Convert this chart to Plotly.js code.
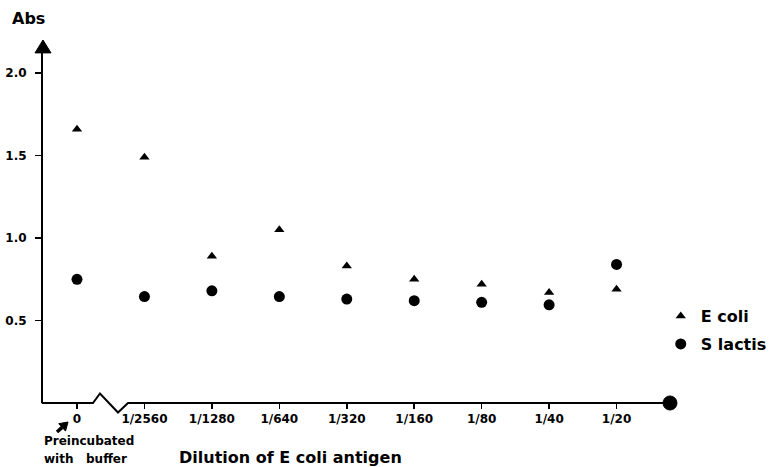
<!DOCTYPE html>
<html>
<head>
<meta charset="utf-8">
<script src="https://cdn.plot.ly/plotly-3.0.1.min.js"></script>
<style>html,body{margin:0;padding:0;background:#fff;}#chart{width:783px;height:467px;}</style>
</head>
<body>
<div id="chart"></div>
<script>
// Data
const dilutions = ['0', '1/2560', '1/1280', '1/640', '1/320', '1/160', '1/80', '1/40', '1/20'];
const eColi = [1.66, 1.49, 0.89, 1.05, 0.83, 0.75, 0.72, 0.67, 0.69];
const sLactis = [0.75, 0.645, 0.68, 0.645, 0.63, 0.62, 0.61, 0.595, 0.84];
const yTickVals = [0.5, 1.0, 1.5, 2.0];
const yTickText = ['0.5', '1.0', '1.5', '2.0'];

const FONT = 'DejaVu Sans, sans-serif';
const BOLD = {family: FONT, weight: 'bold', color: '#000'};

const traces = [
  {
    x: dilutions, y: eColi, name: 'E coli', type: 'scatter', mode: 'markers',
    legendgroup: 'a', cliponaxis: false,
    marker: {symbol: 'triangle-up', size: 9, color: '#000'}
  },
  {
    x: dilutions, y: sLactis, name: 'S lactis', type: 'scatter', mode: 'markers',
    legendgroup: 'b', cliponaxis: false,
    marker: {symbol: 'circle', size: 11, color: '#000'}
  }
];

const layout = {
  width: 783, height: 467,
  margin: {l: 43, r: 116, t: 45, b: 64, autoexpand: false},
  paper_bgcolor: '#fff', plot_bgcolor: '#fff',
  font: {family: FONT, color: '#000'},
  hovermode: false,
  showlegend: true,
  legend: {
    x: 0.990, y: 0.29, xanchor: 'left', yanchor: 'top',
    font: Object.assign({size: 16}, BOLD),
    tracegroupgap: 4, itemwidth: 30, bgcolor: 'rgba(0,0,0,0)'
  },
  xaxis: {
    type: 'category', range: [-0.504, 8.748],
    showline: false, showgrid: false, zeroline: false,
    ticks: 'outside', ticklen: 5, tickwidth: 1.5, tickcolor: '#000',
    tickfont: Object.assign({size: 12}, BOLD)
  },
  yaxis: {
    range: [0, 2.17],
    showline: true, linewidth: 2, linecolor: '#000',
    showgrid: false, zeroline: false,
    tickvals: yTickVals, ticktext: yTickText,
    ticks: 'outside', ticklen: 6, tickwidth: 1.5, tickcolor: '#000',
    ticklabelstandoff: 6,
    tickfont: Object.assign({size: 12}, BOLD)
  },
  shapes: [
    // x-axis line with break zigzag
    {type: 'path', xref: 'paper', yref: 'paper',
     path: 'M -0.002 0 L 0.0801 0 L 0.0913 0.0265 L 0.1202 -0.0265 L 0.1362 0 L 0.995 0',
     line: {color: '#000', width: 2}},
    // filled circle at end of x axis
    {type: 'circle', xref: 'paper', yref: 'paper',
     x0: 0.9936, x1: 1.0160, y0: -0.0196, y1: 0.0196,
     fillcolor: '#000', line: {color: '#000', width: 1}},
    // arrow head at top of y axis
    {type: 'path', xref: 'paper', yref: 'paper',
     path: 'M -0.0128 0.978 L 0 1.014 L 0.0128 0.978 Z',
     fillcolor: '#000', line: {color: '#000', width: 1}},
    // small arrow pointing at the "0" tick (shaft)
    {type: 'line', xref: 'paper', yref: 'paper',
     x0: 0.0224, y0: -0.0810, x1: 0.0306, y1: -0.0682,
     line: {color: '#000', width: 3.5}},
    // small arrow head
    {type: 'path', xref: 'paper', yref: 'paper',
     path: 'M 0.0401 -0.0531 L 0.0361 -0.0785 L 0.0252 -0.0578 Z',
     fillcolor: '#000', line: {color: '#000', width: 1}}
  ],
  annotations: [
    {text: 'Abs', xref: 'paper', yref: 'paper', x: -0.0529, y: 1.075,
     xanchor: 'left', yanchor: 'middle', showarrow: false,
     font: Object.assign({size: 16}, BOLD)},
    {text: 'Preincubated', xref: 'paper', yref: 'paper',
     x: -0.002, y: -0.106, xanchor: 'left', yanchor: 'middle',
     showarrow: false, font: Object.assign({size: 12}, BOLD)},
    {text: 'with\u00a0\u00a0\u00a0buffer', xref: 'paper', yref: 'paper',
     x: -0.002, y: -0.156, xanchor: 'left', yanchor: 'middle',
     showarrow: false, font: Object.assign({size: 12}, BOLD)},
    {text: 'Dilution of E coli antigen', xref: 'paper', yref: 'paper',
     x: 0.2147, y: -0.1536, xanchor: 'left', yanchor: 'middle', showarrow: false,
     font: Object.assign({size: 16}, BOLD)}
  ]
};

Plotly.newPlot('chart', traces, layout, {displayModeBar: false, staticPlot: true});
</script>
</body>
</html>
